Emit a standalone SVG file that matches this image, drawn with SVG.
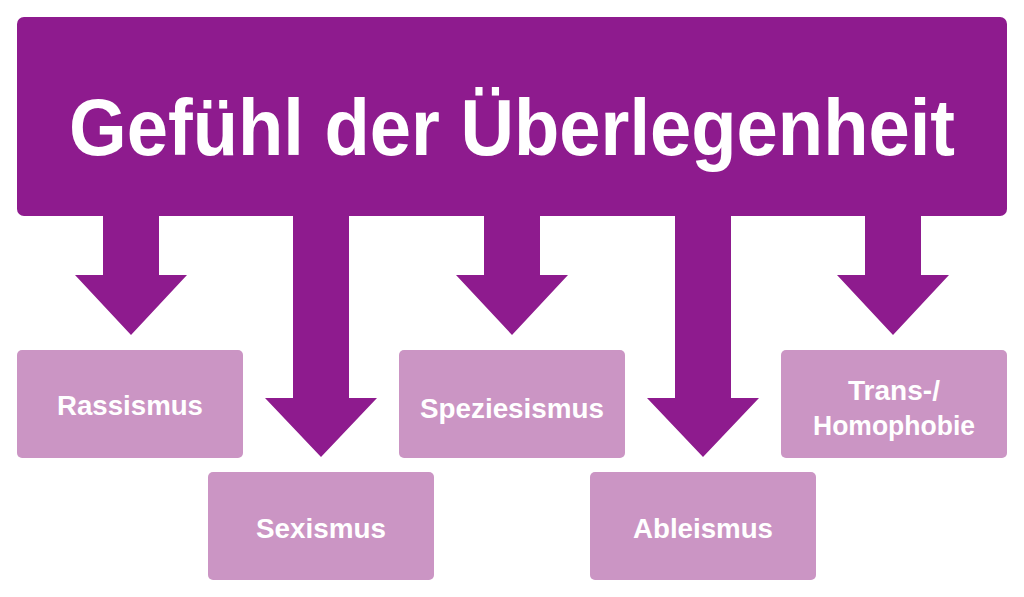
<svg xmlns="http://www.w3.org/2000/svg" width="1024" height="597" viewBox="0 0 1024 597">
<style>
.box{fill:#cb95c4}
.arr{fill:#8e1b8e}
.t{font-family:"Liberation Sans",Arial,sans-serif;font-weight:bold;fill:#fff;text-anchor:middle}
.s{font-size:27px}
</style>
<rect width="1024" height="597" fill="#fff"/>
<g id="title"><rect x="17" y="17" width="990" height="199" rx="7" fill="#8e1b8e"/>
<text class="t" x="512" y="155" font-size="80" textLength="886" lengthAdjust="spacingAndGlyphs">Gefühl der Überlegenheit</text></g>
<g id="connectors">
<polygon class="arr" points="103,210 159,210 159,275 187,275 131,335 75,275 103,275"/>
<polygon class="arr" points="293,210 349,210 349,398 377,398 321,457 265,398 293,398"/>
<polygon class="arr" points="484,210 540,210 540,275 568,275 512,335 456,275 484,275"/>
<polygon class="arr" points="675,210 731,210 731,398 759,398 703,457 647,398 675,398"/>
<polygon class="arr" points="865,210 921,210 921,275 949,275 893,335 837,275 865,275"/>
</g>
<g id="rassismus"><rect class="box" x="17" y="350" width="226" height="108" rx="5"/><text class="t s" x="130" y="415" textLength="146" lengthAdjust="spacingAndGlyphs">Rassismus</text></g>
<g id="sexismus"><rect class="box" x="208" y="472" width="226" height="108" rx="5"/><text class="t s" x="321" y="538" textLength="130" lengthAdjust="spacingAndGlyphs">Sexismus</text></g>
<g id="speziesismus"><rect class="box" x="399" y="350" width="226" height="108" rx="5"/><text class="t s" x="512" y="418" textLength="184" lengthAdjust="spacingAndGlyphs">Speziesismus</text></g>
<g id="ableismus"><rect class="box" x="590" y="472" width="226" height="108" rx="5"/><text class="t s" x="703" y="538" textLength="140" lengthAdjust="spacingAndGlyphs">Ableismus</text></g>
<g id="trans"><rect class="box" x="781" y="350" width="226" height="108" rx="5"/><text class="t s" x="894" y="400" textLength="92" lengthAdjust="spacingAndGlyphs">Trans-/</text><text class="t s" x="894" y="435" textLength="162" lengthAdjust="spacingAndGlyphs">Homophobie</text></g>
</svg>
